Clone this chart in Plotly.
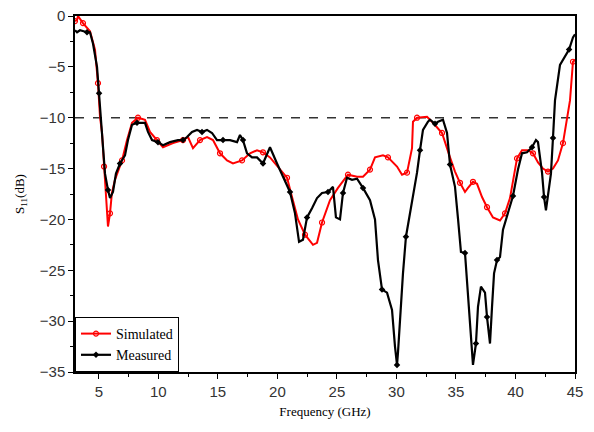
import plotly.graph_objects as go

# Simulated S11 (red)
sim_f = [3.0, 3.17, 3.25, 3.67, 4.26, 4.68, 4.93, 5.1, 5.27, 5.44, 5.69, 5.77, 5.94, 6.1, 6.36, 6.95,
         7.37, 7.79, 8.29, 8.88, 9.3, 9.89, 10.39, 11.23, 12.07, 12.49, 12.91, 13.5, 14.09, 14.59,
         15.18, 15.77, 16.27, 17.03, 17.7, 18.29, 18.79, 19.38, 20.22, 20.81, 21.23, 21.73, 22.32,
         22.99, 23.33, 23.75, 24.42, 25.09, 25.93, 26.69, 27.19, 27.78, 28.2, 28.87, 29.29, 30.05,
         30.47, 30.89, 31.31, 31.39, 31.73, 32.57, 33.07, 33.83, 34.5, 34.92, 35.34, 35.76, 36.01,
         36.43, 36.77, 37.19, 37.61, 38.11, 38.7, 39.12, 39.54, 39.79, 40.13, 40.55, 41.05, 41.47,
         41.89, 42.31, 42.73, 43.15, 43.57, 43.99, 44.33, 44.58, 44.83, 45.0]
sim_s = [-0.5, -0.4, 0.0, -0.7, -1.5, -3.3, -6.6, -9.9, -11.5, -14.8, -19.0, -20.7, -19.4, -17.4, -16.1, -14.2,
         -12.2, -10.5, -10.0, -10.2, -11.4, -12.2, -12.9, -12.5, -12.2, -11.9, -13.0, -12.2, -11.9, -12.2,
         -13.5, -14.2, -14.5, -14.2, -13.5, -13.2, -13.4, -13.9, -15.1, -15.9, -17.8, -20.0, -21.5,
         -22.5, -22.3, -20.3, -18.1, -16.9, -15.6, -15.8, -15.8, -15.1, -13.9, -13.7, -13.9, -14.8,
         -15.6, -15.4, -13.0, -10.4, -10.0, -9.9, -10.5, -11.5, -13.9, -15.3, -16.4, -17.3, -16.9,
         -16.3, -16.5, -17.8, -18.8, -19.8, -20.1, -19.4, -17.9, -16.4, -14.0, -13.2, -13.2, -13.5,
         -14.4, -15.0, -15.3, -15.0, -14.2, -12.5, -10.2, -8.3, -4.5, -4.3]

# Measured S11 (black)
mea_f = [3.0, 3.17, 3.42, 4.01, 4.26, 4.51, 4.85, 5.02, 5.18, 5.35, 5.52, 5.77, 5.94, 6.19, 6.44, 6.78,
         7.2, 7.45, 7.79, 8.21, 8.88, 9.13, 9.47, 9.97, 10.39, 10.98, 11.65, 12.07, 12.41, 12.83, 13.25,
         13.67, 14.09, 14.51, 14.93, 15.43, 16.02, 16.61, 16.86, 17.11, 17.45, 17.87, 18.29, 18.79,
         19.38, 19.97, 20.47, 21.06, 21.48, 21.82, 22.15, 22.49, 22.91, 23.33, 23.75, 24.25, 24.67,
         24.92, 25.26, 25.51, 25.85, 26.27, 26.69, 27.19, 27.78, 28.2, 28.45, 28.79, 29.21, 29.63,
         29.88, 30.05, 30.13, 30.3, 30.55, 30.8, 31.14, 31.48, 31.73, 31.98, 32.23, 32.65, 32.82,
         33.24, 33.49, 33.91, 34.25, 34.5, 34.92, 35.17, 35.42, 35.76, 36.01, 36.35, 36.43, 36.68,
         36.85, 37.1, 37.44, 37.61, 37.86, 38.03, 38.2, 38.45, 38.7, 38.95, 39.37, 39.79, 40.21,
         40.55, 40.97, 41.39, 41.72, 41.89, 42.23, 42.4, 42.56, 42.73, 42.98, 43.15, 43.32, 43.74,
         44.24, 44.5, 44.83, 45.0]
mea_s = [-1.4, -1.6, -1.4, -1.6, -1.6, -2.7, -5.0, -7.6, -10.2, -12.9, -15.5, -17.1, -17.9, -17.3, -15.5, -14.5,
         -13.7, -12.2, -10.7, -10.5, -10.5, -11.4, -12.2, -12.4, -12.7, -12.4, -12.2, -12.2, -11.9, -11.4, -11.2,
         -11.4, -11.2, -11.5, -12.2, -12.2, -12.2, -12.4, -11.7, -12.2, -13.5, -13.9, -13.9, -14.5,
         -12.9, -14.5, -15.8, -17.3, -19.4, -22.2, -22.0, -19.8, -18.9, -17.9, -17.4, -17.3, -16.8,
         -19.8, -20.0, -17.4, -15.9, -16.1, -16.0, -16.9, -18.1, -20.0, -24.0, -26.9, -27.2, -28.9,
         -32.5, -34.3, -33.1, -29.6, -25.3, -21.7, -19.4, -17.4, -15.4, -13.2, -11.2, -10.4, -10.2,
         -10.6, -10.4, -10.2, -11.5, -14.6, -16.8, -19.9, -23.2, -23.3, -27.6, -33.1, -34.3, -32.2,
         -28.6, -26.6, -27.2, -29.6, -32.2, -28.6, -25.3, -24.0, -23.7, -21.0, -19.4, -17.7, -15.1,
         -13.5, -13.4, -12.9, -12.2, -12.4, -15.4, -17.8, -19.1, -17.5, -15.5, -12.0, -8.3, -4.8,
         -3.8, -3.3, -2.1, -1.8]

x_ticks = [5, 10, 15, 20, 25, 30, 35, 40, 45]
y_ticks = [0, -5, -10, -15, -20, -25, -30, -35]
threshold = -10

fig = go.Figure()
fig.add_trace(go.Scatter(
    x=sim_f, y=sim_s, name="Simulated", mode="lines+markers",
    line=dict(color="#ff0000", width=2),
    marker=dict(symbol="circle-open", size=5, color="#ff0000", line=dict(width=1.2), maxdisplayed=40),
))
fig.add_trace(go.Scatter(
    x=mea_f, y=mea_s, name="Measured", mode="lines+markers",
    line=dict(color="#000000", width=2.2),
    marker=dict(symbol="diamond", size=5, color="#000000", maxdisplayed=40),
))

fig.add_shape(type="line", xref="x", yref="y", x0=3, x1=45, y0=threshold, y1=threshold,
              line=dict(color="#333333", width=1.5, dash="dash"), layer="below")

axis_common = dict(
    showgrid=False, zeroline=False, showline=True, linecolor="#000000", linewidth=1.5,
    mirror=True, ticks="outside", ticklen=5, tickwidth=1.2, tickcolor="#000000",
    automargin=False, ticklabeloverflow="allow",
    tickfont=dict(family="Liberation Sans, Arial", size=15, color="#333333"),
)

fig.update_xaxes(range=[3, 45], tickvals=x_ticks,
                 minor=dict(ticks="outside", ticklen=3, tickcolor="#000000", dtick=2.5, tick0=0),
                 title=dict(text="Frequency (GHz)", font=dict(family="Liberation Serif", size=13, color="#000000"),
                            standoff=8),
                 **axis_common)
fig.update_yaxes(range=[-35, 0], tickvals=y_ticks,
                 minor=dict(ticks="outside", ticklen=3, tickcolor="#000000", dtick=2.5, tick0=0),
                 title=dict(text="S<sub>11</sub>(dB)", font=dict(family="Liberation Serif", size=13, color="#000000"),
                            standoff=12),
                 **axis_common)

# the page body adds an 8px offset; size and margins compensate for it
fig.update_layout(
    width=586, height=424,
    margin=dict(l=67, r=19, t=8, b=60),
    plot_bgcolor="white", paper_bgcolor="white",
    showlegend=True,
    legend=dict(x=0, y=0, xanchor="left", yanchor="bottom",
                bgcolor="white", bordercolor="#000000", borderwidth=1,
                font=dict(family="Liberation Serif", size=14, color="#000000"),
                tracegroupgap=0, itemwidth=30),
)

fig.write_html("out.html")
